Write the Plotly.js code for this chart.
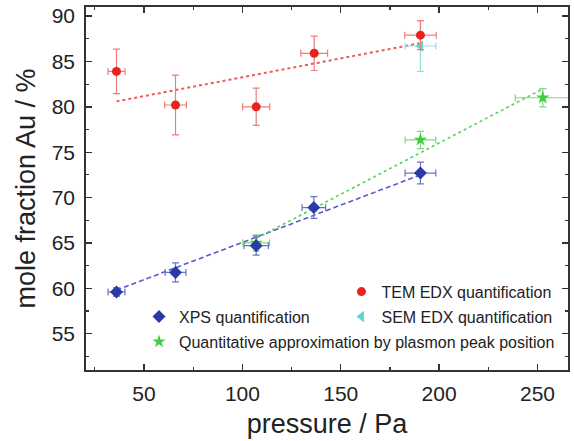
<!DOCTYPE html>
<html>
<head>
<meta charset="utf-8">
<script src="https://cdn.plot.ly/plotly-3.0.1.min.js"></script>
<style>html,body{margin:0;padding:0;background:#fff}#chart{width:574px;height:441px}</style>
</head>
<body>
<div id="chart"></div>
<script>
// ---- data ----
const temX = [36, 66, 107, 136.5, 190.5];
const temY = [83.9, 80.2, 80.0, 85.9, 87.9];
const temYErr = [2.45, 3.3, 2.05, 1.9, 1.6];
const temXErr = [4.3, 5.5, 6.9, 6.8, 8.0];

const semX = [190.5];
const semY = [86.7];
const semYErr = [2.8];
const semXErr = [7.8];

const xpsX = [36, 66, 107, 136.3, 190.5];
const xpsY = [59.6, 61.75, 64.7, 68.9, 72.7];
const xpsYErr = [0.45, 1.05, 1.05, 1.2, 1.2];
const xpsXErr = [4.3, 5.3, 6.2, 6.0, 7.8];

const plasX = [107, 190.5, 252.7];
const plasY = [65.0, 76.35, 81.0];
const plasYErr = [0.9, 0.95, 1.0];
const plasXErr = [6.8, 7.8, 14.0];

// fit lines (endpoints)
const temFitX = [36, 190];
const temFitY = [80.6, 87.0];
const xpsFitX = [36, 190.5];
const xpsFitY = [59.8, 72.5];
const plasFitX = [107, 252];
const plasFitY = [65.5, 81.9];

const legendNames = ["TEM EDX quantification", "SEM EDX quantification", "XPS quantification", "Quantitative approximation by plasmon peak position"];

const RED = "#e8231e", CYAN = "#5fd6d0", BLUE = "#2b3aa6", GREEN = "#44cc3c";

function errs(arr, color) {
  return {type: "data", array: arr, visible: true, color: color, thickness: 1.2, width: 3.5};
}

const traces = [
  {x: temFitX, y: temFitY, mode: "lines", line: {color: "#ec5a5a", width: 2, dash: "dot"}, showlegend: false, hoverinfo: "skip"},
  {x: xpsFitX, y: xpsFitY, mode: "lines", line: {color: "#5a5ad0", width: 1.6, dash: "5px,3px"}, showlegend: false, hoverinfo: "skip"},
  {x: plasFitX, y: plasFitY, mode: "lines", line: {color: "#55d455", width: 1.6, dash: "dot"}, showlegend: false, hoverinfo: "skip"},
  {x: semX, y: semY, name: legendNames[1], mode: "markers", legend: "legend2",
   marker: {symbol: "triangle-left", size: 10, color: CYAN},
   error_y: errs(semYErr, "#8fe3de"), error_x: errs(semXErr, "#8fe3de")},
  {x: temX, y: temY, name: legendNames[0], mode: "markers", legend: "legend",
   marker: {symbol: "circle", size: 9, color: RED},
   error_y: errs(temYErr, "#f07c7c"), error_x: errs(temXErr, "#f07c7c")},
  {x: plasX, y: plasY, name: legendNames[3], mode: "markers", legend: "legend4",
   marker: {symbol: "star", size: 10, color: GREEN},
   error_y: errs(plasYErr, "#7ddc76"), error_x: errs(plasXErr, "#7ddc76")},
  {x: xpsX, y: xpsY, name: legendNames[2], mode: "markers", legend: "legend3",
   marker: {symbol: "diamond", size: 10, color: BLUE},
   error_y: errs(xpsYErr, "#6a74c4"), error_x: errs(xpsXErr, "#6a74c4")}
];

const FONT = "Liberation Sans, Arial, sans-serif";
const legFont = {family: FONT, size: 16, color: "#222"};
function leg(x, y) {
  return {x: x, y: y, xanchor: "left", yanchor: "middle", bgcolor: "rgba(0,0,0,0)",
          borderwidth: 0, font: legFont, itemwidth: 30, tracegroupgap: 0};
}

const axisCommon = {
  showgrid: false, zeroline: false, showline: true, linecolor: "#333", linewidth: 1.8,
  mirror: "allticks", ticks: "inside", ticklen: 6, tickwidth: 1.4, tickcolor: "#333",
  tickfont: {family: FONT, size: 21, color: "#222"}
};

const layout = {
  width: 574, height: 441,
  margin: {l: 86, r: 6, t: 7, b: 71},
  paper_bgcolor: "#fff", plot_bgcolor: "#fff",
  font: {family: FONT},
  xaxis: Object.assign({}, axisCommon, {
    range: [20.5, 265.5], tickvals: [50, 100, 150, 200, 250], ticklabelstandoff: 4,
    minor: {ticks: "inside", tickvals: [25, 75, 125, 175, 225], ticklen: 3, tickwidth: 1.2, tickcolor: "#333"},
    title: {text: "pressure / Pa", font: {family: FONT, size: 27, color: "#222"}, standoff: 10}
  }),
  yaxis: Object.assign({}, axisCommon, {
    range: [51, 91], tickvals: [55, 60, 65, 70, 75, 80, 85, 90], ticklabelstandoff: 5,
    minor: {ticks: "inside", tickvals: [52.5, 57.5, 62.5, 67.5, 72.5, 77.5, 82.5, 87.5], ticklen: 3, tickwidth: 1.2, tickcolor: "#333"},
    title: {text: "mole fraction Au / %", font: {family: FONT, size: 27, color: "#222"}, standoff: 8}
  }),
  legend: leg(0.53, 0.2157),
  legend2: leg(0.53, 0.1468),
  legend3: leg(0.11, 0.1468),
  legend4: leg(0.11, 0.078),
  showlegend: true
};

Plotly.newPlot("chart", traces, layout, {displayModeBar: false, staticPlot: true});
</script>
</body>
</html>
